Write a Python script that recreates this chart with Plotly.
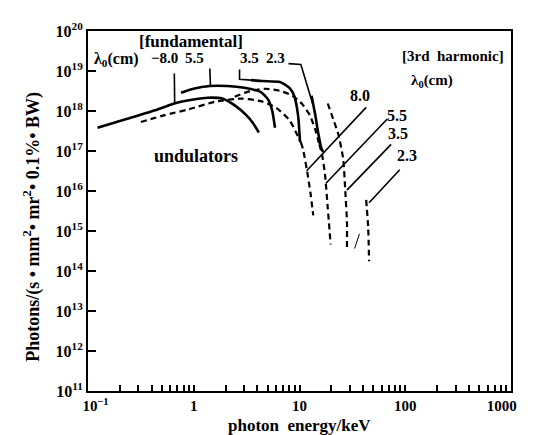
import plotly.graph_objects as go

# ---- data (photon energy keV, photons/(s mm^2 mr^2 0.1% BW)) ----
# fundamental, solid
s80_x = [0.123, 0.231, 0.432, 0.655, 0.995, 1.36, 1.86, 2.44, 3.14, 3.63, 4.12]
s80_y = [3.8e17, 6.3e17, 1.04e18, 1.54e18, 1.93e18, 2.15e18, 2.04e18, 1.38e18, 7.9e17, 5.0e17, 2.9e17]
s55_x = [0.759, 0.995, 1.42, 2.07, 3.01, 4.29, 5.07, 5.51, 5.87]
s55_y = [2.85e18, 3.6e18, 4.2e18, 4.2e18, 3.8e18, 3.0e18, 1.9e18, 1.04e18, 3.8e17]
s35_x = [3.48, 4.48, 6.52, 8.03, 8.91, 9.69, 10.1]
s35_y = [5.9e18, 5.6e18, 5.3e18, 3.8e18, 2.41e18, 7.9e17, 1.73e17]
s23_x = [13.0, 14.1, 15.0, 16.0, 16.7]
s23_y = [2.41e18, 7.9e17, 2.9e17, 1.24e17, 9.4e16]
# fundamental, dashed
dlo_x = [0.316, 0.532, 0.895, 1.61, 2.83, 4.48, 6.12, 8.03, 9.29, 10.3]
dlo_y = [5.3e17, 7.9e17, 1.10e18, 1.72e18, 2.04e18, 1.72e18, 1.16e18, 5.9e17, 2.9e17, 1.64e17]
dhi_x = [2.44, 3.48, 4.76, 6.52, 8.55, 10.5, 12.5, 14.1, 15.4]
dhi_y = [2.28e18, 3.2e18, 3.6e18, 3.2e18, 2.41e18, 1.54e18, 7.9e17, 3.4e17, 1.46e17]
# 3rd harmonic, dashed
h80_x = [10.3, 10.8, 11.7, 12.7, 13.5]
h80_y = [1.64e17, 1.11e17, 3.6e16, 8.9e15, 2.45e15]
h55_x = [15.4, 16.3, 17.4, 18.5, 19.7]
h55_y = [1.46e17, 8.4e16, 2.7e16, 3.8e15, 4.6e14]
h35_x = [18.5, 21.0, 23.3, 25.9, 27.0, 28.1, 28.1]
h35_y = [1.54e18, 5.9e17, 2.6e17, 6.3e16, 1.18e16, 1.66e15, 3.45e14]
h23_x = [42.7, 44.6, 45.5]
h23_y = [6.0e15, 1.25e15, 1.76e14]
# label leader lines
lf80_x, lf80_y = [0.655, 0.66], [8.7e18, 1.54e18]
lf55_x, lf55_y = [1.42, 1.44], [1.16e19, 4.0e18]
lf35_x, lf35_y = [2.71, 2.71, 3.48], [1.09e19, 6.2e18, 5.9e18]
lf23_x, lf23_y = [7.87, 10.3, 13.3], [1.53e19, 1.45e19, 1.54e18]
lh80_x, lh80_y = [42.7, 11.7], [1.23e18, 3.2e16]
lh55_x, lh55_y = [67.6, 17.8], [6.3e17, 1.56e16]
lh35_x, lh35_y = [73.5, 28.1], [1.46e17, 1.05e16]
lh23_x, lh23_y = [88.7, 45.5], [3.4e16, 5.1e15]
slash_x, slash_y = [33.2, 36.9], [3.65e14, 8.5e14]

x_tickvals = [0.1, 1, 10, 100, 1000]
x_ticktext = ["&nbsp;&nbsp;&nbsp;&nbsp;10<sup>−1</sup>", "1", "10", "100",
              "1000&nbsp;&nbsp;&nbsp;&nbsp;&nbsp;"]
x_minor = [k * 10.0 ** n for n in range(-1, 3) for k in range(2, 10)]
y_exps = list(range(11, 21))

FONT = "Liberation Serif"

fig = go.Figure()

def add(x, y, width, dash="solid"):
    fig.add_trace(go.Scatter(x=x, y=y, mode="lines", showlegend=False,
                             line=dict(color="black", width=width, dash=dash, shape="spline", smoothing=0.6),
                             hoverinfo="skip"))

def add_lin(x, y, width):
    fig.add_trace(go.Scatter(x=x, y=y, mode="lines", showlegend=False,
                             line=dict(color="black", width=width), hoverinfo="skip"))

for xs, ys in [(s80_x, s80_y), (s55_x, s55_y), (s35_x, s35_y), (s23_x, s23_y)]:
    add(xs, ys, 2.6)
DASH = "6px,4px"
for xs, ys in [(dlo_x, dlo_y), (dhi_x, dhi_y), (h80_x, h80_y), (h55_x, h55_y), (h35_x, h35_y), (h23_x, h23_y)]:
    add(xs, ys, 2.2, DASH)
for xs, ys in [(lf80_x, lf80_y), (lf55_x, lf55_y), (lf35_x, lf35_y), (lf23_x, lf23_y),
               (lh80_x, lh80_y), (lh55_x, lh55_y), (lh35_x, lh35_y), (lh23_x, lh23_y)]:
    add_lin(xs, ys, 1.6)
add_lin(slash_x, slash_y, 1.0)

def text(s, x, y, size=14, angle=0):
    fig.add_annotation(text=s, x=x, y=y, xref="paper", yref="paper", showarrow=False,
                       xanchor="center", yanchor="middle", textangle=angle,
                       font=dict(family=FONT, size=size, color="black", weight="bold"))

text("[fundamental]", 0.243, 0.972, 17)
text("λ<sub>0</sub>(cm)", 0.068, 0.922, 16)
text("−8.0", 0.180, 0.925, 15)
text("5.5", 0.252, 0.925, 15)
text("3.5", 0.381, 0.925, 15)
text("2.3", 0.444, 0.925, 15)
text("[3rd  harmonic]", 0.864, 0.930, 15)
text("λ<sub>0</sub>(cm)", 0.814, 0.862, 15)
text("8.0", 0.642, 0.822, 16)
text("5.5", 0.730, 0.766, 16)
text("3.5", 0.732, 0.716, 16)
text("2.3", 0.753, 0.653, 16)
text("undulators", 0.256, 0.652, 18)
text("Photons/(s • mm<sup>2</sup>• mr<sup>2</sup>• 0.1%• BW)", -0.131, 0.455, 18, -90)
text("photon  energy/keV", 0.499, -0.096, 17)

fig.update_xaxes(type="log", range=[-1, 3.0], tickmode="array", tickvals=x_tickvals, ticktext=x_ticktext,
                 ticks="inside", ticklen=6, tickwidth=1.5, tickcolor="black", ticklabeloverflow="allow",
                 minor=dict(tickmode="array", tickvals=x_minor, ticks="inside", ticklen=6, tickwidth=1.5,
                            tickcolor="black", showgrid=False),
                 showline=True, linecolor="black", linewidth=2, mirror=True, showgrid=False, zeroline=False,
                 tickfont=dict(family=FONT, size=15, color="black", weight="bold"))
fig.update_yaxes(type="log", range=[11, 20], tickmode="array",
                 tickvals=[10.0 ** e for e in y_exps], ticktext=["10<sup>%d</sup>" % e for e in y_exps],
                 ticks="inside", ticklen=8, tickwidth=2, tickcolor="black",
                 showline=True, linecolor="black", linewidth=2, mirror=True, showgrid=False, zeroline=False,
                 tickfont=dict(family=FONT, size=16, color="black", weight="bold"))

fig.update_layout(width=539, height=435, margin=dict(l=80, r=18, t=13, b=52),
                  paper_bgcolor="white", plot_bgcolor="white", showlegend=False)

fig.write_html("out.html")
